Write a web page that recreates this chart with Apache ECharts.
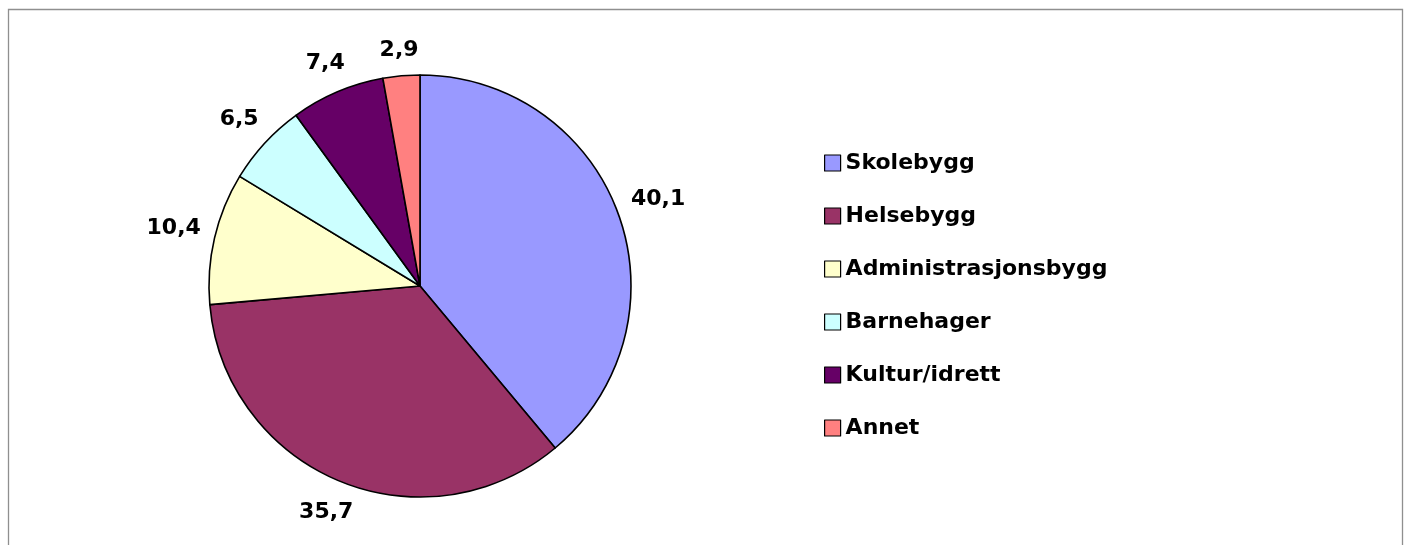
<!DOCTYPE html>
<html>
<head>
<meta charset="utf-8">
<script src="https://cdn.jsdelivr.net/npm/echarts@6/dist/echarts.min.js"></script>
<style>
  html, body { margin: 0; padding: 0; background: #fff; }
  #chart { width: 1409px; height: 545px; }
</style>
</head>
<body>
<div id="chart"></div>
<script>
// Andel per byggtype
const categories = ['Skolebygg', 'Helsebygg', 'Administrasjonsbygg', 'Barnehager', 'Kultur/idrett', 'Annet']
const values = [40.1, 35.7, 10.4, 6.5, 7.4, 2.9]
const labels = ['40,1', '35,7', '10,4', '6,5', '7,4', '2,9']
const colors = ['#9999FF', '#993366', '#FFFFCC', '#CCFFFF', '#660066', '#FF8080']

const chart = echarts.init(document.getElementById('chart'), null, { renderer: 'canvas' })

const font = 'DejaVu Sans'

// plasser etikett like utenfor kanten, sentrert langs midtvinkelen
function placeLabel(p) {
  const pts = p.labelLinePoints
  if (!pts) return {}
  let dx = pts[1][0] - pts[0][0]
  let dy = pts[1][1] - pts[0][1]
  const len = Math.sqrt(dx * dx + dy * dy) || 1
  dx /= len
  dy /= len
  const w = p.labelRect.width
  const h = p.labelRect.height
  const off = 13 + Math.abs(dx) * w / 2 + Math.abs(dy) * h / 2
  return {
    x: pts[0][0] + dx * off,
    y: pts[0][1] + dy * off,
    align: 'center',
    verticalAlign: 'middle'
  }
}

const option = {
  animation: false,
  backgroundColor: '#fff',
  graphic: [{
    type: 'rect',
    shape: { x: 8.5, y: 9.5, width: 1394, height: 600 },
    style: { fill: 'none', stroke: '#8f8f8f', lineWidth: 1.3 },
    silent: true
  }],
  legend: {
    orient: 'vertical',
    left: 819,
    top: 147,
    itemWidth: 16,
    itemHeight: 16,
    itemGap: 31,
    icon: 'rect',
    itemStyle: { borderColor: '#000', borderWidth: 1.2 },
    textStyle: {
      fontFamily: font,
      fontWeight: 'bold',
      fontSize: 22,
      lineHeight: 22,
      color: '#000'
    },
    data: categories
  },
  series: [{
    type: 'pie',
    center: [420, 286],
    radius: 211,
    startAngle: 90,
    clockwise: true,
    avoidLabelOverlap: false,
    itemStyle: { borderColor: '#000', borderWidth: 1.6 },
    emphasis: { disabled: true },
    label: {
      show: true,
      position: 'outside',
      fontFamily: font,
      fontWeight: 'bold',
      fontSize: 22,
      color: '#000',
      formatter: p => labels[p.dataIndex]
    },
    labelLine: {
      show: true,
      length: 10,
      length2: 0,
      lineStyle: { opacity: 0 }
    },
    labelLayout: placeLabel,
    data: categories.map((name, i) => ({
      name,
      value: values[i],
      itemStyle: { color: colors[i] }
    }))
  }]
}

chart.setOption(option)
</script>
</body>
</html>
